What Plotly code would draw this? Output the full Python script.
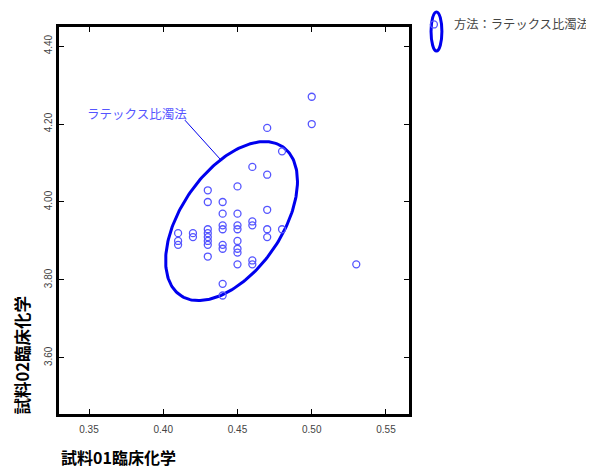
import numpy as np
import plotly.graph_objects as go

# ---- data ----
x_vals = [0.50, 0.50, 0.47, 0.48, 0.46, 0.47, 0.45, 0.43, 0.43, 0.44,
          0.44, 0.45, 0.47, 0.46, 0.46, 0.44, 0.44, 0.45, 0.45, 0.47,
          0.47, 0.48, 0.41, 0.41, 0.41, 0.42, 0.42, 0.43, 0.43, 0.43,
          0.43, 0.43, 0.44, 0.44, 0.45, 0.45, 0.45, 0.43, 0.45, 0.46,
          0.46, 0.53, 0.44, 0.44]
y_vals = [4.27, 4.20, 4.19, 4.13, 4.09, 4.07, 4.04, 4.03, 4.00, 4.00,
          3.97, 3.97, 3.98, 3.95, 3.94, 3.94, 3.93, 3.94, 3.93, 3.93,
          3.91, 3.93, 3.92, 3.90, 3.89, 3.92, 3.91, 3.93, 3.92, 3.91,
          3.90, 3.89, 3.89, 3.88, 3.90, 3.88, 3.87, 3.86, 3.84, 3.85,
          3.84, 3.84, 3.79, 3.76]

# ellipse parameters (data units)
ell_cx, ell_cy = 0.446, 3.951
ell_sx, ell_sy = 0.0444, 0.204
ell_rho = 0.50

x_ticks = [0.35, 0.40, 0.45, 0.50, 0.55]
y_ticks = [3.60, 3.80, 4.00, 4.20, 4.40]

series_name = "方法：ラテックス比濁法"
label_text = "ラテックス比濁法"
x_title = "試料01臨床化学"
y_title = "試料02臨床化学"

# callout line endpoints (data units)
call_x = [0.4146, 0.4395]
call_y = [4.210, 4.105]

t = np.linspace(0, 2 * np.pi, 241)
ex = ell_cx + ell_sx * np.cos(t)
ey = ell_cy + ell_sy * (ell_rho * np.cos(t) + np.sqrt(1 - ell_rho ** 2) * np.sin(t))

fig = go.Figure()
fig.add_trace(go.Scatter(
    x=ex, y=ey, mode="lines", line=dict(color="#0000ee", width=3),
    showlegend=False, hoverinfo="skip"))
fig.add_trace(go.Scatter(
    x=call_x, y=call_y, mode="lines", line=dict(color="#0000ee", width=1),
    showlegend=False, hoverinfo="skip"))
fig.add_trace(go.Scatter(
    x=x_vals, y=y_vals, mode="markers", name=series_name,
    marker=dict(symbol="circle-open", size=7, color="#5555ff",
                line=dict(width=1.3, color="#5555ff"))))

fig.add_annotation(x=0.382, y=4.228, text=label_text, showarrow=False,
                   font=dict(family="Noto Sans CJK JP", size=12.5, color="#5555ff"))

fig.add_annotation(xref="paper", yref="paper", x=0.0, y=-0.111, xanchor="left",
                   yanchor="middle", text="<b>" + x_title + "</b>", showarrow=False,
                   font=dict(family="Noto Sans CJK JP", size=16, color="black"))
fig.add_annotation(xref="paper", yref="paper", x=-0.106, y=0.151, xanchor="center",
                   yanchor="middle", textangle=-90, text="<b>" + y_title + "</b>",
                   showarrow=False,
                   font=dict(family="Noto Sans CJK JP", size=16.5, color="black"))

# legend icon ellipse
fig.add_shape(type="circle", xref="paper", yref="paper",
              x0=1.063, x1=1.094, y0=0.938, y1=1.039,
              line=dict(color="#0000ee", width=3))

axis_common = dict(showgrid=False, zeroline=False, showline=True, mirror="ticks",
                   linecolor="black", linewidth=2.5, ticks="inside", ticklen=5,
                   tickwidth=1, tickcolor="black",
                   tickfont=dict(family="Liberation Sans", size=10, color="#444444"))

fig.update_xaxes(range=[0.3298, 0.5655], tickvals=x_ticks, ticklabelstandoff=4,
                 ticktext=[f"{v:.2f}" for v in x_ticks], **axis_common)
fig.update_yaxes(range=[3.456, 4.449], tickvals=y_ticks,
                 ticktext=[f"{v:.2f}" for v in y_ticks], tickangle=-90, **axis_common)

# page has an 8px body margin, so the figure is sized/offset to compensate
fig.update_layout(
    width=586, height=460,
    margin=dict(l=51, r=185, t=19, b=54, autoexpand=False),
    plot_bgcolor="white", paper_bgcolor="white",
    showlegend=True,
    legend=dict(x=1.014, y=1.044, xanchor="left", yanchor="top",
                font=dict(family="Noto Sans CJK JP", size=12.3, color="#444444"),
                bgcolor="rgba(0,0,0,0)", itemwidth=30),
)

fig.write_html("out.html")
